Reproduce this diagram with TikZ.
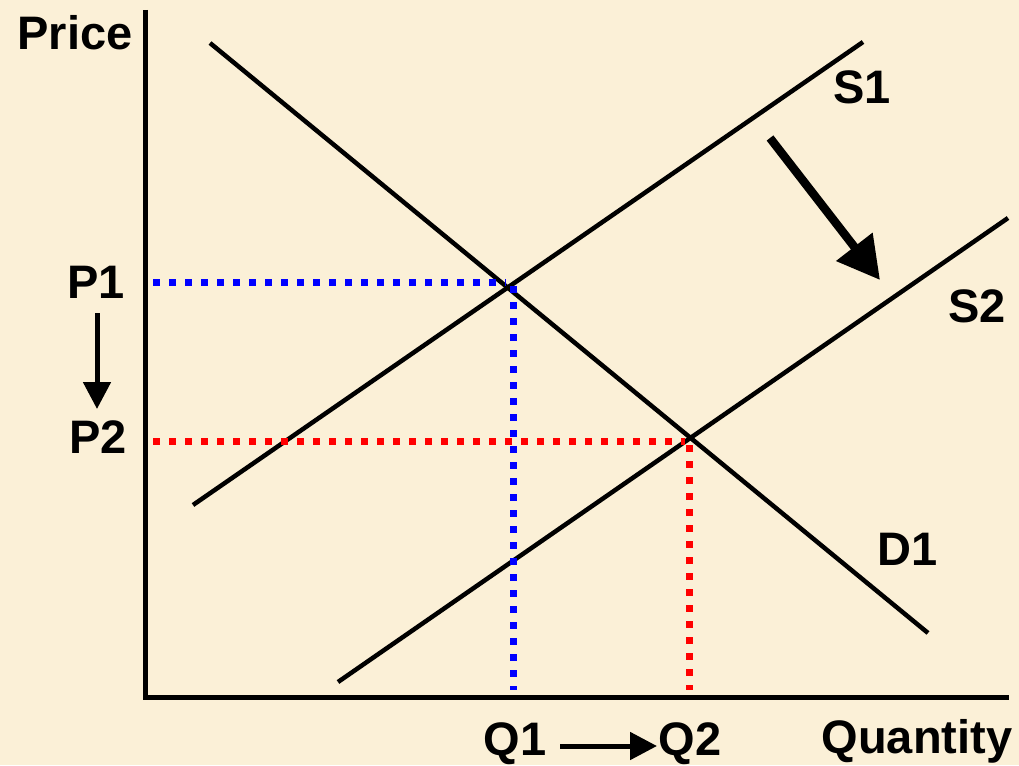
\documentclass[tikz,border=0pt]{standalone}
\usepackage{fontspec}
\setmainfont{Liberation Sans}
\usetikzlibrary{arrows.meta}
\definecolor{bgbeige}{RGB}{251,240,215}
\definecolor{dotblue}{RGB}{0,0,255}
\definecolor{dotred}{RGB}{255,0,0}
\tikzset{
  curve/.style={line width=4.5pt, black, line cap=butt},
  axisline/.style={line width=5pt, black},
  guide/.style={line width=7pt, dash pattern=on 7pt off 9pt, line cap=butt},
  lbl/.style={font=\fontsize{47}{50}\selectfont\bfseries, inner sep=0pt, anchor=base},
  bigarrow/.style={line width=8.5pt, -{Triangle[length=42pt,width=44pt]}},
  smallarrow/.style={line width=5pt, -{Triangle[length=27pt,width=27pt]}},
}
\begin{document}
\begin{tikzpicture}[x=1pt,y=-1pt]
\useasboundingbox[fill=bgbeige] (0,0) rectangle (1019,765);
% axes
\coordinate (ytop) at (145,10);
\coordinate (orig) at (145,697);
\coordinate (xend) at (1009,697);
\draw[axisline] (ytop) -- (orig) -- (xend);
% curves
\coordinate (d1a) at (210,43);
\coordinate (d1b) at (928,633);
\coordinate (s1a) at (193,505);
\coordinate (s1b) at (863,42);
\coordinate (s2a) at (338,682);
\coordinate (s2b) at (1008,218);
\draw[curve] (d1a) -- (d1b);
\draw[curve] (s1a) -- (s1b);
\draw[curve] (s2a) -- (s2b);
% equilibrium guides
\coordinate (e1) at (513,282);
\coordinate (e2) at (689,441);
\coordinate (p1y) at (153,282);
\coordinate (p2y) at (153,441);
\coordinate (q1x) at (513,690);
\coordinate (q2x) at (689,690);
\draw[guide, dotblue] (p1y) -- (506,282);
\draw[guide, dotblue] (513,286) -- (q1x);
\draw[guide, dotred] (p2y) -- (685,441);
\draw[guide, dotred] (689,445) -- (q2x);
% labels
\node[lbl] (price) at (75,50) {Price};
\node[lbl] (p1) at (96,298) {P1};
\node[lbl] (p2) at (98,453) {P2};
\node[lbl] (q1) at (515,755) {Q1};
\node[lbl] (q2) at (690,755) {Q2};
\node[lbl] (qty) at (917,753) {Quantity};
\node[lbl] (s1) at (862,103) {S1};
\node[lbl] (s2) at (977,322) {S2};
\node[lbl] (d1) at (908,565) {D1};
% arrows
\coordinate (shA) at (770,138);
\coordinate (shB) at (880,280);
\draw[bigarrow] (shA) -- (shB);
\coordinate (paA) at (97,313);
\coordinate (paB) at (97,409);
\draw[smallarrow] (paA) -- (paB);
\coordinate (qaA) at (560,746);
\coordinate (qaB) at (657,746);
\draw[smallarrow] (qaA) -- (qaB);
\end{tikzpicture}
\end{document}
